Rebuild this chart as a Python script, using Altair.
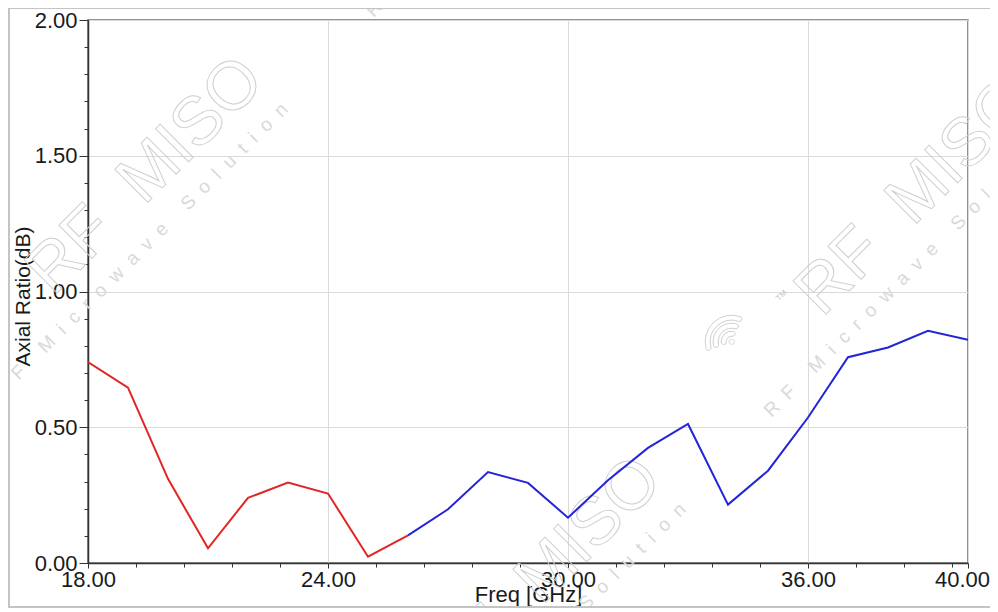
import altair as alt
import pandas as pd

# ---- data ----
freq = [18, 19, 20, 21, 22, 23, 24, 25, 26, 27, 28, 29, 30, 31, 32, 33, 34, 35, 36, 37, 38, 39, 40]
axial_ratio = [0.740, 0.646, 0.310, 0.054, 0.240, 0.296, 0.256, 0.023, 0.102,
               0.198, 0.335, 0.295, 0.167, 0.305, 0.424, 0.512, 0.215, 0.340,
               0.536, 0.758, 0.794, 0.855, 0.822]
red_last = 26          # red trace runs 18..26 GHz, blue trace 26..40 GHz

x_tick_labels = [18, 24, 30, 36, 40]
y_tick_labels = [0, 0.5, 1.0, 1.5, 2.0]
x_minor = [round(18 + 1.2 * i, 2) for i in range(19)]
y_minor = [round(0.1 * i, 2) for i in range(21)]

rows = []
for f, v in zip(freq, axial_ratio):
    if f <= red_last:
        rows.append({"freq": f, "ar": v, "seg": "red"})
    if f >= red_last:
        rows.append({"freq": f, "ar": v, "seg": "blue"})
df = pd.DataFrame(rows)

W, H = 880, 543
FONT = "Liberation Sans"
TXT = "#1a1a1a"
WM = "#cfcfcf"

xscale = alt.Scale(domain=[18, 40], nice=False, zero=False)
yscale = alt.Scale(domain=[0, 2], nice=False, zero=False)

lines = alt.Chart(df).mark_line(strokeWidth=2, clip=True).encode(
    x=alt.X("freq:Q", scale=xscale, axis=alt.Axis(
        orient="bottom", values=x_tick_labels, format=".2f", grid=True,
        gridColor="#dadada", gridWidth=1, tickSize=5, tickColor="#333",
        domainColor="#333", domainWidth=1.5, labelFont=FONT, labelFontSize=22,
        labelColor=TXT, labelPadding=1, labelFlush=False, labelOverlap=False,
        labelOffset={"condition": {"test": "datum.value == 40", "value": -6}, "value": 0},
        title="Freq [GHz]", titleFont=FONT, titleFontSize=22, titleFontWeight="normal",
        titleColor=TXT, titleX=440, titleY=38, titleAlign="center",
        titleBaseline="alphabetic")),
    y=alt.Y("ar:Q", scale=yscale, axis=alt.Axis(
        orient="left", values=y_tick_labels, format=".2f", grid=True,
        gridColor="#dadada", gridWidth=1, tickSize=9, tickColor="#333",
        domainColor="#333", domainWidth=1.5, labelFont=FONT, labelFontSize=22,
        labelColor=TXT, labelPadding=2, labelFlush=False, labelOverlap=False,
        title="Axial Ratio(dB)", titleFont=FONT, titleFontSize=21,
        titleFontWeight="normal", titleColor=TXT, titleAngle=270,
        titleX=-59, titleY=276, titleAlign="center", titleBaseline="alphabetic")),
    color=alt.Color("seg:N", scale=alt.Scale(domain=["red", "blue"],
                                             range=["#e32424", "#2424d8"]), legend=None),
    order="freq:Q",
)

minor = alt.Chart(df).mark_point(opacity=0).encode(
    x=alt.X("freq:Q", axis=alt.Axis(orient="bottom", values=x_minor, labels=False,
                                    grid=False, domain=False, tickSize=4,
                                    tickColor="#333", title=None)),
    y=alt.Y("ar:Q", axis=alt.Axis(orient="left", values=y_minor, labels=False,
                                  grid=False, domain=False, tickSize=4,
                                  tickColor="#333", title=None)),
)

one = pd.DataFrame({"a": [0]})


def wm_title(text, x, y, size=68):
    return alt.Chart(pd.DataFrame({"t": [text]})).mark_text(
        angle=315, font=FONT, fontSize=size, align="center", baseline="middle",
        fill="#ffffff", fillOpacity=0, stroke=WM, strokeWidth=1,
    ).encode(x=alt.value(x), y=alt.value(y), text="t:N")


def wm_sub(text, x, y, size=19):
    return alt.Chart(pd.DataFrame({"t": [text]})).mark_text(
        angle=315, font=FONT, fontSize=size, align="center", baseline="middle",
        fill="#d9d9d9",
    ).encode(x=alt.value(x), y=alt.value(y), text="t:N")


def wm_logo(x, y):
    layers = []
    for r in (8, 16, 24):
        layers.append(alt.Chart(one).mark_arc(
            theta=4.35, theta2=6.71, radius=r - 2.5, radius2=r + 2.5, cornerRadius=2.5,
            fill="#ffffff", fillOpacity=0, stroke=WM, strokeWidth=1,
        ).encode(x=alt.value(x), y=alt.value(y)))
    layers.append(alt.Chart(one).mark_point(
        shape="circle", size=30, filled=False, color=WM, strokeWidth=1,
    ).encode(x=alt.value(x), y=alt.value(y)))
    layers.append(alt.Chart(pd.DataFrame({"t": ["TM"]})).mark_text(
        angle=315, font=FONT, fontSize=8, fill="#c8c8c8",
    ).encode(x=alt.value(x + 50), y=alt.value(y - 46), text="t:N"))
    return layers


NB = "\u00a0"
TITLE = "RF" + NB + NB + "MISO"
SUB = (NB * 2).join("RF") + NB * 5 + (NB * 2).join("Microwave") + NB * 5 + (NB * 2).join("Solution")
marks = [
    wm_title(TITLE, 58, 156), wm_sub(SUB, 53, 230),
    wm_title(TITLE, 827, 177), wm_sub(SUB, 823, 250),
    wm_title(TITLE, 456, 556), wm_sub(SUB, 451, 630),
    wm_sub(SUB, 425, -150),
] + wm_logo(731.7 - 88, 341.7 - 20)

frame_col = "#c4c4c4"
frame = [
    alt.Chart(one).mark_rule(color=frame_col, strokeWidth=2).encode(
        x=alt.value(-79), x2=alt.value(W + 22), y=alt.value(-12)),
    alt.Chart(one).mark_rule(color=frame_col, strokeWidth=2).encode(
        x=alt.value(-79), y=alt.value(-12), y2=alt.value(H + 45)),
    alt.Chart(one).mark_rule(color=frame_col, strokeWidth=2).encode(
        x=alt.value(-79), x2=alt.value(W + 22), y=alt.value(H + 44)),
]

chart = alt.layer(*marks, lines, minor, *frame).resolve_axis(
    x="independent", y="independent"
).properties(
    width=W, height=H,
    autosize=alt.AutoSizeParams(type="none"),
    padding={"left": 80, "top": 12, "right": 22, "bottom": 45},
    background="white",
).configure_view(stroke="#6e6e6e", strokeWidth=1.5)

chart.save("out.html", embed_options={"renderer": "svg", "actions": False})
